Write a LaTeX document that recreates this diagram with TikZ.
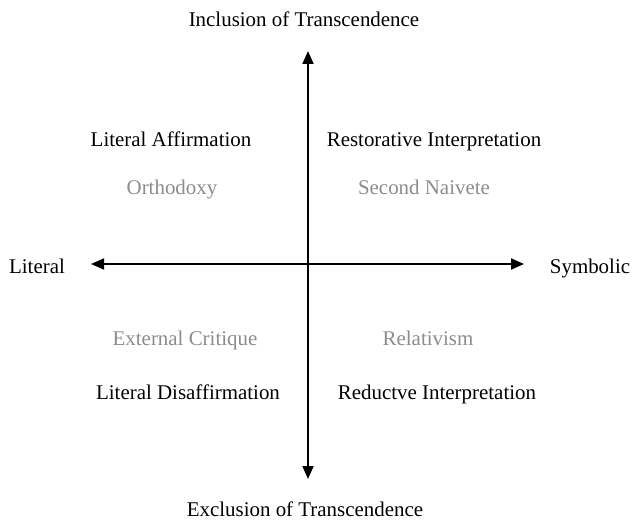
\documentclass[tikz,border=0pt]{standalone}
\usepackage{fontspec}
\setmainfont{Liberation Serif}
\usetikzlibrary{arrows.meta}

\begin{document}
\begin{tikzpicture}[x=1bp, y=-1bp,
		lbl/.style={font=\fontsize{21}{24}\selectfont, text=black, text height=14bp, text depth=4bp},
		faint/.style={lbl, text=gray!90},
		axis/.style={line width=1.8bp, {Triangle[length=13bp,width=11bp]}-{Triangle[length=13bp,width=11bp]}}]
			\useasboundingbox (0,0) rectangle (632,520);
			\coordinate (top) at (308,51);
			\coordinate (bot) at (308,479);
			\coordinate (lft) at (91,264);
			\coordinate (rgt) at (524,264);
			\draw[axis] (top)--(bot);
			\draw[axis] (lft)--(rgt);
			\node[lbl] (incl) at (304,22) {Inclusion of Transcendence};
			\node[lbl] (excl) at (305,511) {Exclusion of Transcendence};
			\node[lbl] (lit) at (37,268) {Literal};
			\node[lbl] (sym) at (590,268) {Symbolic};
			\node[lbl] (affirm) at (171,142) {Literal Affirmation};
			\node[lbl] (restore) at (434,142) {Restorative Interpretation};
			\node[faint] (ortho) at (172,190) {Orthodoxy};
			\node[faint] (naive) at (424,190) {Second Naivete};
			\node[faint] (critique) at (185,340) {External Critique};
			\node[faint] (relat) at (428,340) {Relativism};
			\node[lbl] (disaffirm) at (188,394) {Literal Disaffirmation};
			\node[lbl] (reduct) at (437,394) {Reductve Interpretation};
		\end{tikzpicture}
\end{document}
